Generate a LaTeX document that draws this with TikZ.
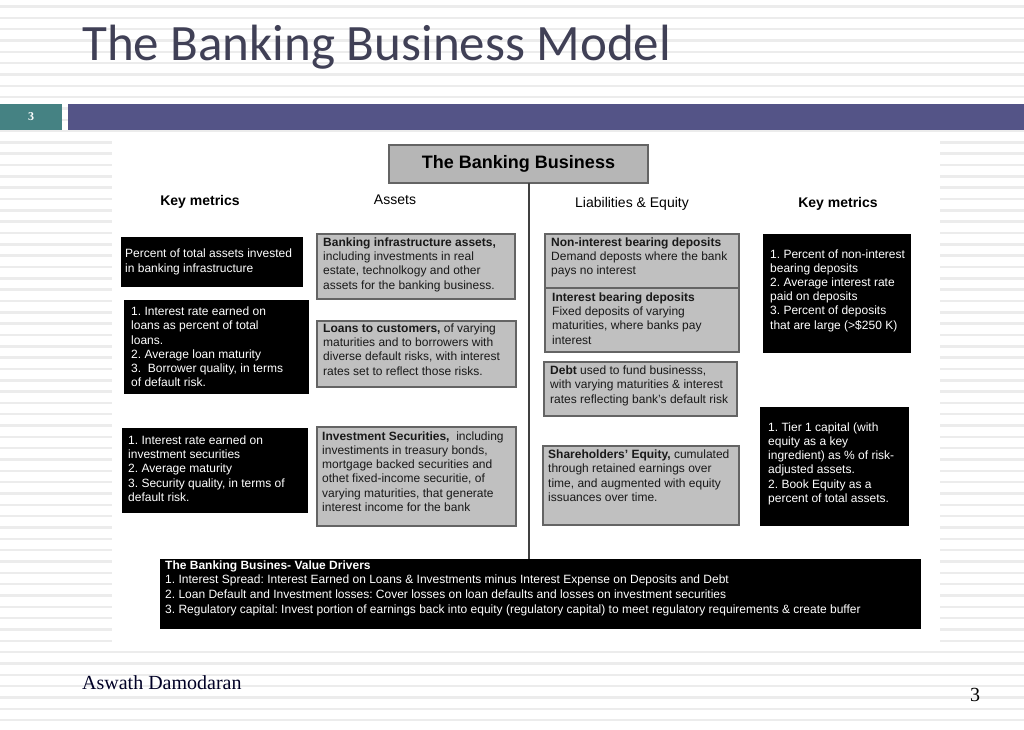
\documentclass[tikz,border=0pt]{standalone}
\usepackage{fontspec}
\setmainfont{Liberation Serif}
\setsansfont{Liberation Sans}
\newfontfamily\titlefont{Carlito}
\frenchspacing
\definecolor{stripe}{RGB}{236,236,236}
\definecolor{slideteal}{RGB}{69,130,131}
\definecolor{slidepurple}{RGB}{84,84,135}
\definecolor{titlecol}{RGB}{64,64,86}
\definecolor{boxgray}{RGB}{192,192,192}
\definecolor{boxedge}{RGB}{100,100,100}
\begin{document}
\begin{tikzpicture}[x=1pt,y=-1pt,
  plain/.style={inner sep=0,outer sep=0,anchor=north west},
  blackbox/.style={plain,fill=black,draw=black},
  graybox/.style={plain,fill=boxgray,draw=boxedge,line width=1.1pt},
  btxt/.style={inner sep=0,anchor=base west,align=left,text=white,font=\sffamily\fontsize{12}{14.2}\selectfont},
  gtxt/.style={btxt,text=black!90},
  head/.style={inner sep=0,anchor=center,font=\sffamily\fontsize{14}{16}\selectfont},
  conn/.style={draw=black!75,line width=1.2pt}]
\useasboundingbox (0,0) rectangle (1024,729);
\fill[white] (0,0) rectangle (1024,729);
\foreach \i in {0,...,63} \fill[stripe] (0,{5.2+11.33*\i}) rectangle (1024,{7.6+11.33*\i});
% header
\node (title) [inner sep=0,anchor=base west,text=titlecol,font=\titlefont\fontsize{51}{60}\selectfont] at (82,60) {The Banking Business Model};
\node (numbox) [plain,fill=slideteal,minimum width=62,minimum height=26,font=\rmfamily\bfseries\fontsize{12}{14}\selectfont,text=white] at (0,104) {3};
\node (bar) [plain,fill=slidepurple,minimum width=956,minimum height=26] at (68,104) {};
% panel
\node (panel) [plain,fill=white,minimum width=828,minimum height=505] at (112,138) {};
% top box
\node (hdr) [graybox,fill=boxgray!95!black,minimum width=259,minimum height=38,font=\sffamily\bfseries\fontsize{18}{20}\selectfont] at (389,145) {The Banking Business};
% column heads
\node (kmL) [head,font=\sffamily\bfseries\fontsize{14}{16}\selectfont] at (200,202) {Key metrics};
\node (assets) [head] at (395,200) {Assets};
\node (liab) [head] at (632,204) {Liabilities \& Equity};
\node (kmR) [head,font=\sffamily\bfseries\fontsize{14}{16}\selectfont] at (838,204) {Key metrics};
% left black boxes
\node (lb1) [blackbox,minimum width=181,minimum height=49] at (121,237) {};
\node (lb1t) [btxt] at (125,272) {Percent of total assets invested\\in banking infrastructure};
\node (lb2) [blackbox,minimum width=184,minimum height=93] at (124,300) {};
\node (lb2t) [btxt] at (131,386.7) {1. Interest rate earned on\\loans as percent of total\\loans.\\2. Average loan maturity\\3.\ \ Borrower quality, in terms\\of default risk.};
\node (lb3) [blackbox,minimum width=185,minimum height=84] at (122,428) {};
\node (lb3t) [btxt] at (128,501.3) {1. Interest rate earned on\\investment securities\\2. Average maturity\\3. Security quality, in terms of\\default risk.};
% asset boxes
\node (ma1) [graybox,minimum width=198,minimum height=65] at (317,234) {};
\node (ma1t) [gtxt] at (323,289) {\textbf{Banking infrastructure assets,}\\including investments in real\\estate, technolkogy and other\\assets for the banking business.};
\node (ma2) [graybox,minimum width=199,minimum height=66] at (317,321) {};
\node (ma2t) [gtxt] at (323,375) {\textbf{Loans to customers,} of varying\\maturities and to borrowers with\\diverse default risks, with interest\\rates set to reflect those risks.};
\node (ma3) [graybox,minimum width=199,minimum height=99] at (317,427) {};
\node (ma3t) [gtxt] at (322,511.3) {\textbf{Investment Securities,}\ \ including\\investiments in treasury bonds,\\mortgage backed securities and\\othet fixed-income securitie, of\\varying maturities, that generate\\interest income for the bank};
% liability boxes
\node (rl1) [graybox,minimum width=194,minimum height=54] at (545,234) {};
\node (rl1t) [gtxt] at (551,274.7) {\textbf{Non-interest bearing deposits}\\Demand deposts where the bank\\pays no interest};
\node (rl2) [graybox,minimum width=194,minimum height=64] at (545,288) {};
\node (rl2t) [gtxt] at (552,344) {\textbf{Interest bearing deposits}\\Fixed deposits of varying\\maturities, where banks pay\\interest};
\node (rl3) [graybox,minimum width=193,minimum height=54] at (544,362) {};
\node (rl3t) [gtxt] at (550,403) {\textbf{Debt} used to fund businesss,\\with varying maturities \& interest\\rates reflecting bank's default risk};
\node (rl4) [graybox,minimum width=196,minimum height=79] at (543,446) {};
\node (rl4t) [gtxt] at (548,501.3) {\textbf{Shareholders' Equity,} cumulated\\through retained earnings over\\time, and augmented with equity\\issuances over time.};
% right black boxes
\node (rb1) [blackbox,minimum width=147,minimum height=118] at (763,234) {};
\node (rb1t) [btxt] at (770,329) {1. Percent of non-interest\\bearing deposits\\2. Average interest rate\\paid on deposits\\3. Percent of deposits\\that are large (>\$250 K)};
\node (rb2) [blackbox,minimum width=148,minimum height=118] at (760,407) {};
\node (rb2t) [btxt] at (768,502.3) {1. Tier 1 capital (with\\equity as a key\\ingredient) as \% of risk-\\adjusted assets.\\2. Book Equity as a\\percent of total assets.};
% bottom box
\node (bottom) [blackbox,minimum width=760,minimum height=69] at (160,559) {};
\node (bottomt) [btxt,font=\sffamily\fontsize{12}{14.6}\selectfont] at (165,613) {\textbf{The Banking Busines- Value Drivers}\\1. Interest Spread: Interest Earned on Loans \& Investments minus Interest Expense on Deposits and Debt\\2. Loan Default and Investment losses: Cover losses on loan defaults and losses on investment securities\\3. Regulatory capital: Invest portion of earnings back into equity (regulatory capital) to meet regulatory requirements \& create buffer};
% split line
\coordinate (splitx) at (529,0);
\draw[conn] (hdr.south -| splitx) -- (bottom.north -| splitx);
% footer
\node (author) [inner sep=0,anchor=base west,text=black!75!blue!60!black,font=\rmfamily\fontsize{20}{22}\selectfont] at (82,689) {Aswath Damodaran};
\node (pnum) [inner sep=0,anchor=base west,font=\rmfamily\fontsize{20}{22}\selectfont] at (970,701) {3};
\end{tikzpicture}
\end{document}
